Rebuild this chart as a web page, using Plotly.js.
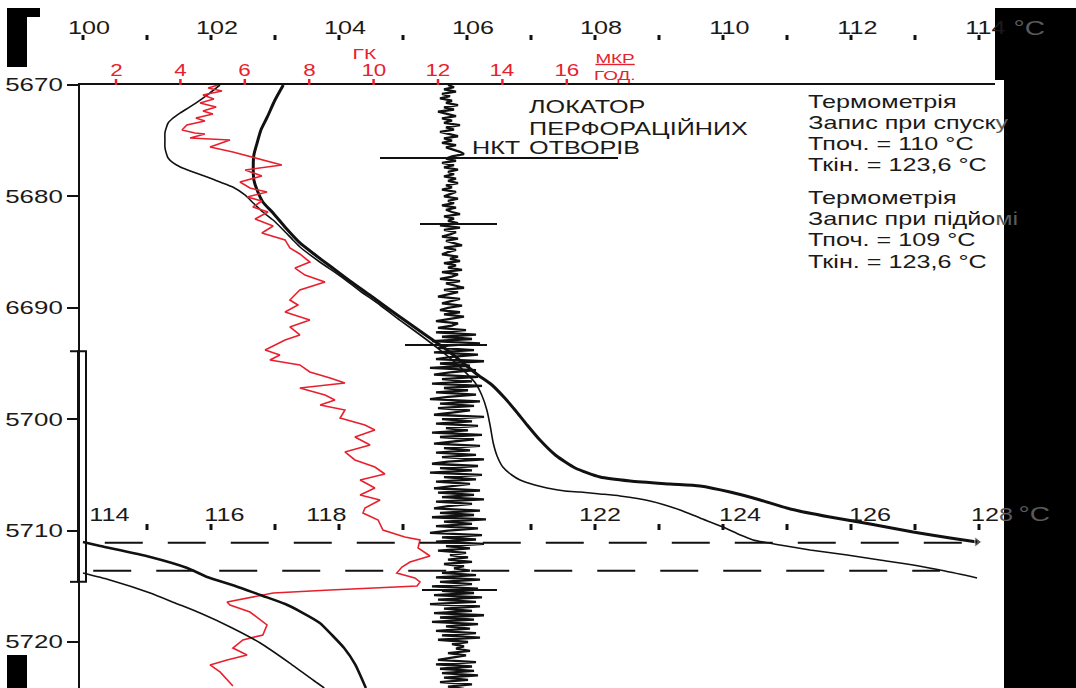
<!DOCTYPE html>
<html><head><meta charset="utf-8">
<script src="https://cdn.plot.ly/plotly-3.0.1.min.js"></script>
<style>html,body{margin:0;padding:0;background:#fff}#chart{width:1076px;height:688px}</style>
</head><body><div id="chart"></div>
<script>
// ---------------- DATA ----------------
const depthTicks = [5670, 5680, 5690, 5700, 5710, 5720];
const depthTickText = ['5670', '5680', '6690', '5700', '5710', '5720'];
const tempTopDots = [100,101,102,103,104,105,106,107,108,109,110,111,112,113,114];
const tempTopLabels = [100,102,104,106,108,110,112,114];
const tempBottomDots = [115,116,117,118,119,121,122,123,124,125,126,127,128];
const tempBottomLabels = [114,116,118,122,124,126,128];
const gkTicks = [2,4,6,8,10,12,14,16];
const locatorCaption = ['ЛОКАТОР', 'ПЕРФОРАЦІЙНИХ', 'ОТВОРІВ'];
const thermoDown = ['Термометрія', 'Запис при спуску', 'Тпоч. = 110 °C', 'Ткін. = 123,6 °C'];
const thermoUp = ['Термометрія', 'Запис при підйомі', 'Тпоч. = 109 °C', 'Ткін. = 123,6 °C'];

// Gamma log (ГК), micro-R/h
const gkDepth = [5670.00,5670.27,5670.54,5670.90,5671.26,5671.62,5671.97,5672.33,5672.60,5672.96,5673.23,5673.59,5674.04,5674.31,5674.40,5674.76,5674.94,5675.57,5676.01,5676.46,5677.18,5677.63,5678.17,5678.71,5679.25,5679.61,5680.05,5680.41,5680.95,5681.40,5682.03,5682.66,5683.29,5683.91,5684.63,5685.17,5685.89,5686.43,5687.06,5687.68,5688.40,5689.30,5689.75,5690.38,5691.10,5691.72,5692.44,5692.89,5693.79,5694.24,5694.69,5695.13,5695.76,5696.30,5696.75,5697.20,5697.83,5698.28,5698.73,5699.17,5699.89,5700.52,5700.97,5701.60,5702.32,5702.94,5703.66,5704.29,5704.92,5705.46,5706.18,5706.80,5707.25,5707.97,5708.42,5709.05,5709.95,5710.57,5710.84,5711.56,5712.28,5712.82,5713.27,5713.81,5714.25,5714.61,5714.97,5715.33,5715.60,5716.41,5716.68,5717.31,5718.03,5718.47,5719.37,5719.82,5720.54,5721.17,5721.62,5722.06,5722.69,5723.41,5723.95];
const gkValue = [5.17,4.86,5.29,4.70,5.04,4.61,5.11,4.70,5.01,4.48,4.76,4.20,4.05,4.45,4.76,4.30,5.54,4.92,5.63,6.25,7.15,6.01,6.53,5.85,6.16,6.69,6.07,6.53,6.25,6.72,6.32,6.88,6.53,7.25,7.40,7.71,8.02,7.56,7.87,8.49,7.71,7.40,7.65,7.25,8.02,7.40,7.71,7.25,6.63,7.09,6.78,7.71,8.02,8.65,9.11,7.71,8.49,8.80,8.34,9.11,8.96,9.73,10.04,9.42,9.89,9.11,9.42,10.04,10.35,9.58,10.04,9.58,10.20,9.73,9.67,10.14,10.29,10.97,11.44,11.38,11.75,11.13,10.88,10.72,11.28,11.44,11.35,8.65,6.88,5.45,5.54,6.16,6.47,6.69,6.56,5.94,5.63,6.07,5.45,4.92,5.23,5.45,5.63];

// Thermometry, thin line (upper scale 100-114 °C)
const thinDepth = [5670.00,5670.72,5671.35,5671.97,5672.51,5673.05,5673.41,5673.86,5674.31,5674.94,5675.57,5676.10,5676.55,5677.00,5677.36,5677.81,5678.26,5678.71,5679.16,5679.87,5680.59,5681.40,5682.12,5683.02,5683.91,5684.54,5685.89,5687.15,5688.49,5689.75,5691.10,5692.44,5693.79,5694.87,5695.76,5696.75,5697.83,5699.17,5700.52,5702.14,5703.30,5704.29,5705.01,5705.46,5705.91,5706.18,5706.45,5706.54,5706.71,5706.89,5707.34,5708.15,5708.87,5709.68,5710.39,5710.84,5711.29,5711.74,5712.19,5712.64,5713.09,5713.63,5714.25];
const thinTemp = [102.14,101.98,101.83,101.67,101.52,101.39,101.33,101.30,101.28,101.28,101.28,101.30,101.33,101.41,101.52,101.72,101.94,102.14,102.34,102.53,102.66,102.81,102.97,103.13,103.28,103.39,103.70,104.02,104.33,104.64,104.95,105.27,105.58,105.81,105.97,106.13,106.23,106.31,106.36,106.41,106.47,106.56,106.70,106.83,107.06,107.25,107.53,107.77,108.08,108.39,108.86,109.33,109.64,110.00,110.27,110.47,110.89,111.36,111.94,112.45,112.97,113.47,113.97];
// Thin line continued on lower scale (114-128 °C)
const thinDepth2 = [5713.81,5714.43,5715.60,5716.50,5717.40,5718.65,5720.09,5721.89,5723.68,5724.13];
const thinTemp2 = [114.00,114.42,115.05,115.44,115.83,116.30,116.77,117.23,117.66,117.77];

// Thermometry, thick line (upper scale)
const thickDepth = [5670.00,5671.35,5672.87,5674.04,5675.21,5676.28,5677.36,5678.53,5679.43,5680.50,5681.49,5682.84,5684.18,5685.26,5686.25,5687.59,5688.85,5690.20,5691.45,5692.71,5693.79,5694.96,5696.03,5696.93,5698.10,5699.17,5700.52,5701.87,5703.21,5704.38,5705.19,5705.55,5705.82,5706.00,5706.54,5707.25,5708.06,5708.78,5709.41,5710.13,5710.66,5711.02];
const thickTemp = [103.13,103.00,102.88,102.78,102.72,102.67,102.66,102.67,102.72,102.81,102.97,103.17,103.39,103.63,103.86,104.17,104.48,104.80,105.11,105.42,105.69,105.94,106.17,106.39,106.59,106.75,106.94,107.14,107.38,107.69,108.08,108.55,109.17,109.64,110.11,110.58,111.05,111.67,112.30,112.97,113.55,113.97];
// Thick line continued on lower scale
const thickDepth2 = [5711.02,5711.38,5712.37,5713.36,5714.17,5714.97,5715.78,5716.59,5717.31,5718.29,5719.37,5720.54,5721.98,5724.13];
const thickTemp2 = [114.00,114.27,115.05,115.63,115.94,116.38,116.77,117.16,117.41,117.70,117.89,118.08,118.25,118.42];

// Perforation locator (relative units), sampled every 0.2 m from 5670 m
const locStartDepth = 5670, locStepDepth = 0.2;
const locValue = [
 0,3,-2,4,-3,1,-4,2,-1,5,-2,3,-5,0,4,-3,2,-2,6,-1,
 3,-4,1,5,-2,2,-3,4,-1,3,6,8,2,-1,4,-3,3,-2,5,0,
 3,-2,4,0,5,-1,2,-3,4,1,-2,5,0,3,-3,4,-1,2,6,-2,
 3,0,5,-4,6,-2,4,1,-3,5,-1,3,7,-2,4,0,-3,5,1,6,
 -2,4,0,7,-3,5,2,-4,6,-1,3,8,-2,5,0,-5,6,2,-3,7,
 0,-4,6,-2,8,1,-6,5,2,-5,
 9,-6,14,-3,12,-8,16,0,-5,13,-7,15,2,-6,18,-4,11,-9,14,1,
 -7,15,-3,12,-8,17,-2,10,-6,14,0,-9,16,-4,13,-5,11,2,-7,18,
 -3,12,-6,15,-1,10,-8,17,-4,13,1,-7,16,-2,11,-6,14,-3,18,0,
 -8,15,-4,12,-9,17,-2,14,-6,11,2,-7,16,-5,13,-3,18,-6,12,0,
 -7,16,-4,13,-8,19,-2,12,-6,15,0,-9,17,-3,14,-6,18,-1,11,-5,
 9,1,10,0,12,-2,8,3,11,-3,14,-6,16,-4,12,-8,15,-3,13,-7,
 17,-5,14,-9,16,-2,12,-7,18,-4,13,-8,15,-1,11,-6,14,-3,16,-5,
 10,2,8,4,11,0,9,3,-5,14,-6,12,-4,13,-3,15,-2,10,-4,12,
 0,8];
// Collar / tubing-shoe marks on the locator (НКТ first)
const locMarkDepth = [5676.55, 5682.48, 5693.34, 5715.33];
const locMarkLeft  = [-34, -14, -21.5, -13];
const locMarkRight = [85, 24.5, 19.5, 24.5];

// Dashed depth marks (lower scale)
const dashDepth = [5711.1, 5713.6];
const dashFrom = [114.34, 114.16];
const dashTo = [127.94, 127.39];
// Perforation interval bar
const intervalTop = 5693.9, intervalBottom = 5714.6;

// ---------------- LAYOUT HELPERS ----------------
const W = 1076, H = 688, ML = 80, MR = 81, MT = 85, MB = 0;
const PW = W - ML - MR, PH = H - MT - MB;
const PX = px => (px - ML) / PW;
const PY = py => (H - MB - py) / PH;
const FONT = 'Liberation Sans, Arial, sans-serif';
const SX = 1.4;            // the scanned original is stretched horizontally
const RED = '#e8202e';
const INK = '#1a1a1a';
const GREY = '#5a5a5a';

const locDepth = locValue.map((v, i) => +(locStartDepth + i * locStepDepth).toFixed(2));
const markX = [], markY = [];
locMarkDepth.forEach((d, i) => { markX.push(locMarkLeft[i], locMarkRight[i], null); markY.push(d, d, null); });
const dashX = [], dashY = [];
dashDepth.forEach((d, i) => { dashX.push(dashFrom[i], dashTo[i], null); dashY.push(d, d, null); });

const traces = [
  {x: gkValue, y: gkDepth, xaxis: 'x2', yaxis: 'y', mode: 'lines', line: {color: RED, width: 1.6}},
  {x: thinTemp, y: thinDepth, xaxis: 'x', yaxis: 'y', mode: 'lines', line: {color: '#111', width: 1.6, shape: 'spline', smoothing: 0.6}},
  {x: thinTemp2, y: thinDepth2, xaxis: 'x3', yaxis: 'y', mode: 'lines', line: {color: '#111', width: 1.6, shape: 'spline', smoothing: 0.6}},
  {x: thickTemp, y: thickDepth, xaxis: 'x', yaxis: 'y', mode: 'lines+markers', line: {color: '#111', width: 3, shape: 'spline', smoothing: 0.6},
   marker: {size: thickTemp.map((v, i) => i === thickTemp.length - 1 ? 9 : 0), symbol: 'triangle-right', color: '#111'}},
  {x: thickTemp2, y: thickDepth2, xaxis: 'x3', yaxis: 'y', mode: 'lines', line: {color: '#111', width: 2.6, shape: 'spline', smoothing: 0.6}},
  {x: locValue, y: locDepth, xaxis: 'x4', yaxis: 'y', mode: 'lines', line: {color: '#111', width: 2.3}},
  {x: markX, y: markY, xaxis: 'x4', yaxis: 'y', mode: 'lines', line: {color: '#111', width: 2}},
  {x: dashX, y: dashY, xaxis: 'x3', yaxis: 'y', mode: 'lines', line: {color: '#111', width: 2, dash: '38px,25px'}}
];

const tLo = 100 - 3 / 64, tHi = tLo + PW / 64;
const gLo = (ML - 51.6) / 32.2, gHi = gLo + PW / 32.2;
const lLo = -(448 - ML) / 2, lHi = lLo + PW / 2;

const shapes = [];
const annotations = [];
function note(o) { annotations.push(Object.assign({showarrow: false, xanchor: 'center', yanchor: 'middle', borderpad: 0}, o)); }
function greyTail(s, n) { return s.slice(0, s.length - n) + '<span style="color:' + GREY + '">' + s.slice(s.length - n) + '</span>'; }

// top temperature dots and labels
tempTopDots.forEach(v => shapes.push({type: 'line', xref: 'x', yref: 'paper', x0: v, x1: v, y0: PY(40), y1: PY(35), line: {color: '#111', width: 3}}));
tempTopLabels.forEach(v => note({xref: 'x', yref: 'paper', x: v, y: PY(28), xshift: 6, text: String(v), font: {family: FONT, size: 18, color: INK}}));
note({xref: 'paper', yref: 'paper', x: PX(1029), y: PY(28), text: '°C', font: {family: FONT, size: 20, color: GREY}});
// lower temperature dots and labels
const bottomShift = [26, 13, -13, 5, 17, 19, 13];
tempBottomDots.forEach(v => shapes.push({type: 'line', xref: 'x3', yref: 'paper', x0: v, x1: v, y0: PY(530), y1: PY(524), line: {color: '#111', width: 3}}));
tempBottomLabels.forEach((v, i) => note({xref: 'x3', yref: 'paper', x: v, y: PY(515), xshift: bottomShift[i],
  text: v === 128 ? greyTail(String(v), 1) : String(v), font: {family: FONT, size: 18, color: INK}}));
note({xref: 'paper', yref: 'paper', x: PX(1034), y: PY(514), text: '°C', font: {family: FONT, size: 20, color: GREY}});
// GK ticks and labels
gkTicks.forEach(v => {
  shapes.push({type: 'line', xref: 'x2', yref: 'paper', x0: v, x1: v, y0: PY(85), y1: PY(79), line: {color: RED, width: 2.5}});
  note({xref: 'x2', yref: 'paper', x: v, y: PY(70.5), text: String(v), font: {family: FONT, size: 16, color: RED}});
});
note({xref: 'paper', yref: 'paper', x: PX(364), y: PY(53), text: 'ГК', font: {family: FONT, size: 15, color: RED}});
note({xref: 'paper', yref: 'paper', x: PX(615), y: PY(58), text: '<u>МКР</u>', font: {family: FONT, size: 13.5, color: RED}});
note({xref: 'paper', yref: 'paper', x: PX(615), y: PY(75), text: 'ГОД.', font: {family: FONT, size: 13.5, color: RED}});
// locator captions
[107, 128, 148].forEach((py, i) => note({xref: 'paper', yref: 'paper', x: PX(528), y: PY(py), xanchor: 'left', text: locatorCaption[i], font: {family: FONT, size: 18, color: INK}}));
note({xref: 'paper', yref: 'paper', x: PX(471), y: PY(148), xanchor: 'left', text: 'НКТ', font: {family: FONT, size: 18, color: INK}});
// thermometry captions
const downLines = thermoDown.slice(); downLines[1] = greyTail(downLines[1], 1);
const upLines = thermoUp.slice(); upLines[1] = greyTail(upLines[1], 2);
[102, 123, 144, 165].forEach((py, i) => note({xref: 'paper', yref: 'paper', x: PX(807), y: PY(py), xanchor: 'left', text: downLines[i], font: {family: FONT, size: 18, color: INK}}));
[198, 219, 240, 262].forEach((py, i) => note({xref: 'paper', yref: 'paper', x: PX(807), y: PY(py), xanchor: 'left', text: upLines[i], font: {family: FONT, size: 18, color: INK}}));
// perforation interval bar on the depth axis
shapes.push({type: 'rect', xref: 'paper', yref: 'y', x0: PX(78), x1: PX(86), y0: intervalTop, y1: intervalBottom, line: {color: '#111', width: 2}});
[intervalTop, intervalBottom].forEach(d => shapes.push({type: 'line', xref: 'paper', yref: 'y', x0: PX(70), x1: PX(80), y0: d, y1: d, line: {color: '#111', width: 2}}));
// scan frame black bars
const blk = {color: '#000', width: 0};
shapes.push({type: 'rect', xref: 'paper', yref: 'paper', x0: PX(1004), x1: PX(1080), y0: PY(692), y1: PY(8), fillcolor: '#000', line: blk, layer: 'above'});
shapes.push({type: 'rect', xref: 'paper', yref: 'paper', x0: PX(995), x1: PX(1005), y0: PY(80), y1: PY(8), fillcolor: '#000', line: blk, layer: 'above'});
shapes.push({type: 'rect', xref: 'paper', yref: 'paper', x0: PX(7), x1: PX(27), y0: PY(67), y1: PY(8), fillcolor: '#000', line: blk, layer: 'above'});
shapes.push({type: 'rect', xref: 'paper', yref: 'paper', x0: PX(7), x1: PX(40), y0: PY(17), y1: PY(8), fillcolor: '#000', line: blk, layer: 'above'});
shapes.push({type: 'rect', xref: 'paper', yref: 'paper', x0: PX(7), x1: PX(27), y0: PY(692), y1: PY(655), fillcolor: '#000', line: blk, layer: 'above'});

const hidden = {visible: false, showgrid: false, zeroline: false, fixedrange: true};
const layout = {
  width: W, height: H, margin: {l: ML, r: MR, t: MT, b: MB, pad: 0},
  paper_bgcolor: '#fff', plot_bgcolor: '#fff', showlegend: false,
  xaxis: {range: [tLo, tHi], side: 'top', showline: true, linecolor: '#111', linewidth: 2, ticks: '', showticklabels: false, showgrid: false, zeroline: false, anchor: 'y'},
  xaxis2: Object.assign({range: [gLo, gHi], overlaying: 'x', anchor: 'y'}, hidden),
  xaxis3: Object.assign({range: [tLo + 14, tHi + 14], overlaying: 'x', anchor: 'y'}, hidden),
  xaxis4: Object.assign({range: [lLo, lHi], overlaying: 'x', anchor: 'y'}, hidden),
  yaxis: {range: [5670 + PH / 11.14, 5670], showline: true, linecolor: '#111', linewidth: 2.5, ticks: 'outside', ticklen: 11, tickwidth: 2, tickcolor: '#111',
    tickvals: depthTicks, ticktext: depthTickText, tickfont: {family: FONT, size: 18.5, color: INK}, showgrid: false, zeroline: false},
  shapes: shapes, annotations: annotations
};

// widen a text horizontally about its anchor edge, as in the stretched scan
function stretch(t, anchor) {
  const bb = t.getBBox();
  const cx = anchor === 'left' ? bb.x : anchor === 'right' ? bb.x + bb.width : bb.x + bb.width / 2;
  const prev = t.getAttribute('transform') || '';
  t.setAttribute('transform', (prev + ' translate(' + cx + ',0) scale(' + SX + ',1) translate(' + (-cx) + ',0)').trim());
}
Plotly.newPlot('chart', traces, layout, {staticPlot: true, displayModeBar: false}).then(gd => {
  gd.querySelectorAll('g.annotation').forEach(g => {
    const a = annotations[+g.getAttribute('data-index')];
    const t = g.querySelector('text.annotation-text');
    if (a && t) stretch(t, a.xanchor);
  });
  gd.querySelectorAll('g.ytick text').forEach(t => stretch(t, 'right'));
});
</script></body></html>
